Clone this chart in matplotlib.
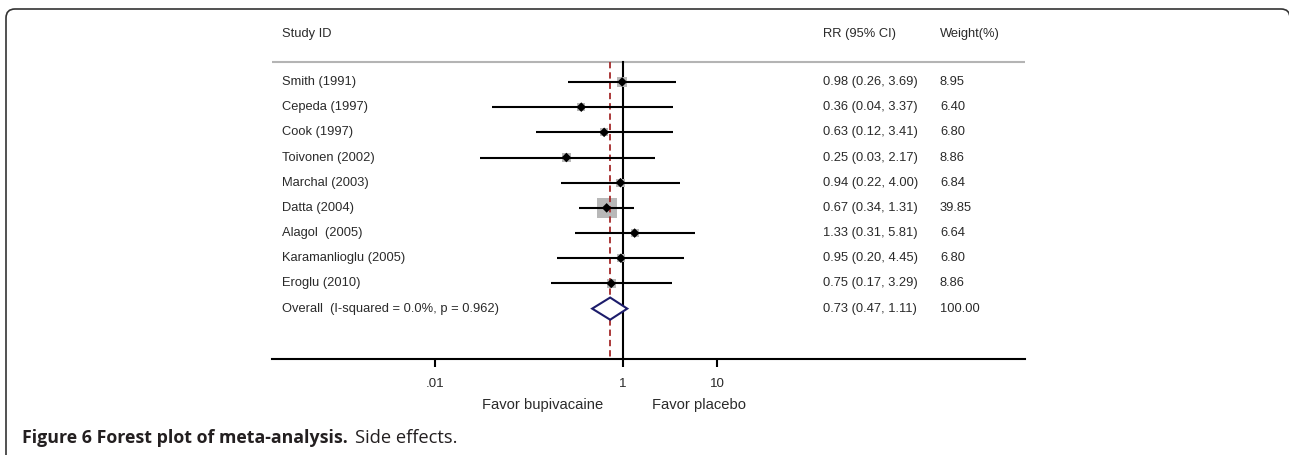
import numpy as np
import matplotlib
matplotlib.use("Agg")
import matplotlib.pyplot as plt
from matplotlib.patches import Polygon, PathPatch
from matplotlib.path import Path
from matplotlib.transforms import Affine2D, blended_transform_factory

# dati del forest plot
studies = ["Smith (1991)", "Cepeda (1997)", "Cook (1997)", "Toivonen (2002)",
           "Marchal (2003)", "Datta (2004)", "Alagol  (2005)",
           "Karamanlioglu (2005)", "Eroglu (2010)"]
rr = [0.98, 0.36, 0.63, 0.25, 0.94, 0.67, 1.33, 0.95, 0.75]
lo = [0.26, 0.04, 0.12, 0.03, 0.22, 0.34, 0.31, 0.20, 0.17]
hi = [3.69, 3.37, 3.41, 2.17, 4.00, 1.31, 5.81, 4.45, 3.29]
weights = [8.95, 6.40, 6.80, 8.86, 6.84, 39.85, 6.64, 6.80, 8.86]

overall_label = "Overall  (I-squared = 0.0%, p = 0.962)"
overall = (0.73, 0.47, 1.11)
overall_weight = "100.00"

tick_vals = [0.01, 1, 10]
tick_labels = [".01", "1", "10"]

W, H = 1289, 455
fig = plt.figure(figsize=(W / 100, H / 100), dpi=100)
fig.patch.set_facecolor("white")

txt = "#2a2a2a"
plt.rcParams["font.family"] = ["Liberation Sans", "DejaVu Sans"]
fs = 9.3

# assi: in pixel 272..1025 orizzontale, 19..359 verticale
ax = fig.add_axes([272 / W, (H - 359) / H, (1025 - 272) / W, (359 - 19) / H])
ax.set_xscale("log")
ax.set_xlim(10 ** (-351 / 94), 10 ** (402 / 94))
ax.set_ylim(12, -1.5)
ax.patch.set_alpha(0)

n = len(studies)
ypos = np.arange(1, n + 1)

# linee di riferimento
ax.plot([1, 1], [0.206, 12], color="black", lw=1.5, zorder=2)
ax.plot([overall[0]] * 2, [0.206, 12], color="#a52a2a", lw=1.3,
        dashes=(3.5, 2.2), zorder=3)
ax.axhline(0.206, color="#b4b4b4", lw=1.5, zorder=1)

# quadrati grigi proporzionali al peso (area)
side_px = 3.17 * np.sqrt(np.array(weights))
ax.scatter(rr, ypos, s=(side_px * 0.72) ** 2, marker="s", color="#b8b8b8",
           edgecolors="none", zorder=2)
ax.hlines(ypos, lo, hi, color="black", lw=1.5, zorder=4)
ax.scatter(rr, ypos, s=24, marker="D", color="black", edgecolors="none", zorder=5)

# diamante complessivo
yo = n + 1
dia = Polygon([(overall[1], yo), (overall[0], yo - 0.44), (overall[2], yo),
               (overall[0], yo + 0.44)], closed=True, facecolor="white",
              edgecolor="#1c1c6b", lw=1.5, zorder=6)
ax.add_patch(dia)

# colonne di testo
trx = blended_transform_factory(ax.transAxes, ax.transData)
x_lab, x_rr, x_w = (282 - 272) / 753, (823 - 272) / 753, (940 - 272) / 753
y_head = -0.9
ax.text(x_lab, y_head, "Study ID", transform=trx, fontsize=fs, color=txt, va="center")
ax.text(x_rr, y_head, "RR (95% CI)", transform=trx, fontsize=fs, color=txt, va="center")
ax.text(x_w, y_head, "Weight(%)", transform=trx, fontsize=fs, color=txt, va="center")
for i in range(n):
    ax.text(x_lab, ypos[i], studies[i], transform=trx, fontsize=fs, color=txt, va="center")
    ax.text(x_rr, ypos[i], f"{rr[i]:.2f} ({lo[i]:.2f}, {hi[i]:.2f})", transform=trx,
            fontsize=fs, color=txt, va="center")
    ax.text(x_w, ypos[i], f"{weights[i]:.2f}", transform=trx, fontsize=fs,
            color=txt, va="center")
ax.text(x_lab, yo, overall_label, transform=trx, fontsize=fs, color=txt, va="center")
ax.text(x_rr, yo, f"{overall[0]:.2f} ({overall[1]:.2f}, {overall[2]:.2f})",
        transform=trx, fontsize=fs, color=txt, va="center")
ax.text(x_w, yo, overall_weight, transform=trx, fontsize=fs, color=txt, va="center")

# asse x
for s in ["top", "left", "right"]:
    ax.spines[s].set_visible(False)
ax.spines["bottom"].set_linewidth(1.5)
ax.set_yticks([])
ax.set_xticks(tick_vals)
ax.set_xticklabels(tick_labels)
ax.minorticks_off()
ax.tick_params(axis="x", length=6, width=1.5, pad=8, labelsize=9.6, labelcolor=txt)

fig.text(543 / W, 1 - 405 / H, "Favor bupivacaine", fontsize=10.6, color=txt,
         ha="center", va="center")
fig.text(699 / W, 1 - 405 / H, "Favor placebo", fontsize=10.6, color=txt,
         ha="center", va="center")

# cornice: lato sinistro, angolo arrotondato, bordo superiore e inizio dell'angolo destro
px = Affine2D().scale(1 / W, 1 / H) + fig.transFigure
top = H - 9
verts = [(6, -5), (6, top - 9), (6, top), (15, top), (1281, top), (1290, top), (1290, top - 9)]
codes = [Path.MOVETO, Path.LINETO, Path.CURVE3, Path.CURVE3, Path.LINETO,
         Path.CURVE3, Path.CURVE3]
frame = PathPatch(Path(verts, codes), transform=px, facecolor="none",
                  edgecolor="#333333", lw=1.2)
fig.patches.append(frame)

# didascalia
cap_y = 1 - 443 / H
cap_fam = ["Open Sans", "DejaVu Sans"]
t1 = fig.text(22 / W, cap_y, "Figure 6 Forest plot of meta-analysis.", fontsize=12.8,
              fontweight="bold", family=cap_fam, color="#231f20", va="baseline")
r = fig.canvas.get_renderer()
bb = t1.get_window_extent(renderer=r)
fig.text((bb.x1 + 7) / W, cap_y, "Side effects.", fontsize=13.2,
         family=cap_fam, color="#231f20", va="baseline")

fig.savefig("out.png", dpi=100, facecolor="white")
